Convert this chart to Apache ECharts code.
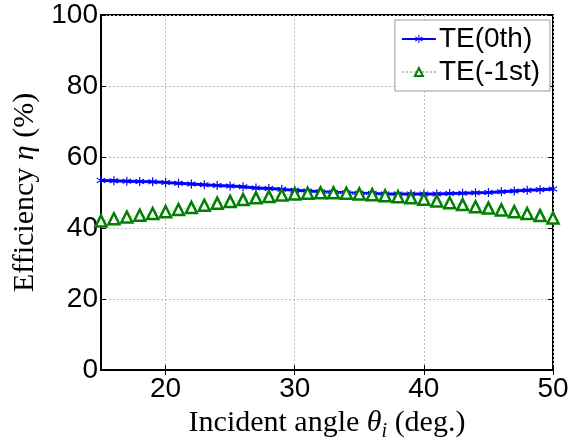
<!DOCTYPE html>
<html>
<head>
<meta charset="utf-8">
<script src="https://cdn.jsdelivr.net/npm/echarts@6/dist/echarts.min.js"></script>
<style>
  html, body { margin: 0; padding: 0; background: #fff; }
  #chart { width: 584px; height: 448px; }
</style>
</head>
<body>
<div id="chart"></div>
<script>
// incident angle (deg.)
const angles = [15, 16, 17, 18, 19, 20, 21, 22, 23, 24, 25, 26, 27, 28, 29, 30, 31, 32,
  33, 34, 35, 36, 37, 38, 39, 40, 41, 42, 43, 44, 45, 46, 47, 48, 49, 50];
// efficiency (%)
const te0 = [53.4, 53.3, 53.2, 53.1, 53.0, 52.8, 52.6, 52.4, 52.2, 52.0, 51.8, 51.6,
  51.3, 51.1, 50.9, 50.6, 50.4, 50.2, 50.1, 49.9, 49.8, 49.7, 49.6, 49.6, 49.6, 49.6,
  49.6, 49.7, 49.8, 49.9, 50.0, 50.2, 50.4, 50.6, 50.8, 51.0];
const teM1 = [42.0, 42.6, 43.1, 43.6, 44.1, 44.6, 45.2, 45.8, 46.4, 47.0, 47.5, 48.0,
  48.5, 48.9, 49.3, 49.6, 49.8, 49.9, 49.9, 49.8, 49.6, 49.4, 49.1, 48.8, 48.5, 48.1,
  47.6, 47.1, 46.6, 46.0, 45.6, 45.1, 44.6, 44.1, 43.5, 42.8];
const xTicks = [20, 30, 40, 50];
const yTicks = [0, 20, 40, 60, 80, 100];

const sans = 'Liberation Sans';
const serif = 'Liberation Serif';
const asterisk = 'path://M4.4,0h1.2v3.9l3.4,-2l0.6,1l-3.4,2l3.4,2l-0.6,1l-3.4,-2v3.9h-1.2v-3.9l-3.4,2l-0.6,-1l3.4,-2l-3.4,-2l0.6,-1l3.4,2z';

const gridLine = { show: true, lineStyle: { color: '#bbb', type: [2, 2], width: 1 } };
const tick = { inside: true, length: 5, lineStyle: { color: '#000' } };

const chart = echarts.init(document.getElementById('chart'));
chart.setOption({
  animation: false,
  backgroundColor: '#fff',
  grid: {
    left: 101, right: 31, top: 15, bottom: 78,
    show: true, borderColor: '#000', borderWidth: 2
  },
  legend: {
    right: 34, top: 20,
    orient: 'vertical',
    backgroundColor: '#fff',
    borderColor: '#999', borderWidth: 1, borderRadius: 0,
    padding: [5, 10, 5, 6],
    itemWidth: 34, itemHeight: 10, itemGap: 5,
    textStyle: { fontFamily: sans, fontSize: 28, color: '#000', padding: [0, 0, 0, -2] },
    data: ['TE(0th)', 'TE(-1st)']
  },
  xAxis: [{
    type: 'value', min: 15, max: 50,
    name: '{t|Incident angle }{i|θ}{s|i}{t| (deg.)}',
    nameLocation: 'middle', nameGap: 22,
    nameTextStyle: {
      rich: {
        t: { fontFamily: serif, fontSize: 30, color: '#000' },
        i: { fontFamily: serif, fontSize: 30, fontStyle: 'italic', color: '#000' },
        s: { fontFamily: serif, fontSize: 20, fontStyle: 'italic', color: '#000', verticalAlign: 'bottom', padding: [18, 0, 0, 0] }
      }
    },
    axisLine: { lineStyle: { color: '#000', width: 2 } },
    axisTick: Object.assign({ customValues: xTicks }, tick),
    axisLabel: { fontFamily: sans, fontSize: 28, color: '#000', margin: 5, customValues: xTicks },
    splitLine: gridLine
  }, {
    type: 'value', min: 15, max: 50, position: 'top',
    axisLine: { show: false },
    axisTick: Object.assign({ customValues: xTicks }, tick),
    axisLabel: { show: false },
    splitLine: { show: false }
  }],
  yAxis: [{
    type: 'value', min: 0, max: 100, interval: 20,
    name: '{t|Efficiency }{i|η}{t| (%)}',
    nameLocation: 'middle', nameGap: 52,
    nameTextStyle: {
      rich: {
        t: { fontFamily: serif, fontSize: 30, color: '#000' },
        i: { fontFamily: serif, fontSize: 30, fontStyle: 'italic', color: '#000' }
      }
    },
    axisLine: { lineStyle: { color: '#000', width: 2 } },
    axisTick: tick,
    axisLabel: { fontFamily: sans, fontSize: 28, color: '#000', margin: 3, customValues: yTicks },
    splitLine: gridLine
  }, {
    type: 'value', min: 0, max: 100, interval: 20, position: 'right',
    axisLine: { show: false },
    axisTick: tick,
    axisLabel: { show: false },
    splitLine: { show: false }
  }],
  series: [
    {
      name: 'TE(0th)', type: 'line',
      data: angles.map((a, i) => [a, te0[i]]),
      symbol: asterisk, symbolSize: 9,
      itemStyle: { color: '#0000ff' },
      lineStyle: { color: '#0000ff', width: 3 },
      z: 3
    },
    {
      name: 'TE(-1st)', type: 'line',
      data: angles.map((a, i) => [a, teM1[i]]),
      symbol: 'triangle', symbolSize: 11,
      itemStyle: { color: '#fff', borderColor: '#008000', borderWidth: 2.5 },
      lineStyle: { color: '#9ed49e', width: 1, type: 'dotted' },
      z: 4
    }
  ]
});
</script>
</body>
</html>
